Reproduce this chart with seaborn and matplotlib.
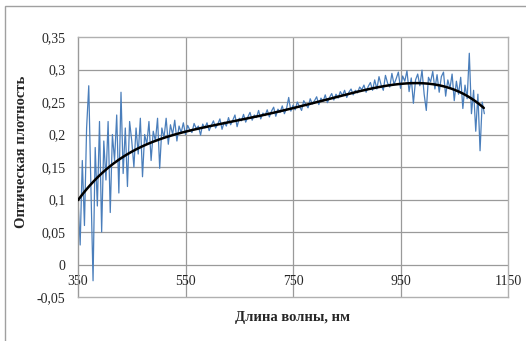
import numpy as np
import pandas as pd
import matplotlib
matplotlib.use("Agg")
import matplotlib.pyplot as plt
import seaborn as sns
from matplotlib.patches import Rectangle

# optical density, 4 nm step starting at 350 nm
od_350_446 = [0.10, 0.03, 0.16, 0.06, 0.21, 0.275, 0.12, -0.025, 0.18, 0.09,
              0.22, 0.05, 0.19, 0.13, 0.22, 0.08, 0.20, 0.16, 0.23, 0.11,
              0.265, 0.14, 0.21, 0.12, 0.22]
od_450_546 = [0.19, 0.15, 0.21, 0.17, 0.225, 0.135, 0.20, 0.185, 0.22, 0.16,
              0.205, 0.19, 0.225, 0.148, 0.21, 0.195, 0.225, 0.185, 0.215, 0.20,
              0.222, 0.19, 0.213, 0.203, 0.218]
od_550_898 = [0.200, 0.214, 0.207, 0.203, 0.217, 0.209, 0.213, 0.199, 0.216, 0.210,
              0.218, 0.206, 0.214, 0.221, 0.210, 0.216, 0.224, 0.208, 0.219, 0.213,
              0.226, 0.215, 0.222, 0.230, 0.212, 0.225, 0.221, 0.231, 0.219, 0.227,
              0.234, 0.222, 0.230, 0.226, 0.237, 0.224, 0.233, 0.229, 0.238, 0.227,
              0.236, 0.242, 0.228, 0.239, 0.234, 0.244, 0.232, 0.240, 0.257, 0.236,
              0.245, 0.238, 0.250, 0.243, 0.237, 0.252, 0.246, 0.241, 0.255, 0.247,
              0.252, 0.258, 0.246, 0.256, 0.251, 0.261, 0.249, 0.257, 0.263, 0.253,
              0.262, 0.256, 0.266, 0.260, 0.268, 0.257, 0.265, 0.270, 0.261, 0.268,
              0.264, 0.273, 0.269, 0.276, 0.265, 0.274, 0.280, 0.268]
od_902_1106 = [0.284, 0.270, 0.289, 0.276, 0.268, 0.291, 0.279, 0.273, 0.294, 0.277,
               0.286, 0.296, 0.271, 0.290, 0.282, 0.298, 0.266, 0.287, 0.248, 0.284,
               0.293, 0.275, 0.299, 0.262, 0.237, 0.288, 0.281, 0.297, 0.270, 0.292,
               0.265, 0.289, 0.296, 0.259, 0.284, 0.271, 0.293, 0.252, 0.282, 0.262,
               0.288, 0.240, 0.276, 0.255, 0.325, 0.232, 0.268, 0.205, 0.262, 0.175,
               0.250, 0.232]
optical_density = od_350_446 + od_450_546 + od_550_898 + od_902_1106
wavelength = np.arange(350, 350 + 4 * len(optical_density), 4)

# black trendline, read at 50 nm steps
trend_wl = [350, 400, 450, 500, 550, 600, 650, 700, 750, 800, 850, 900, 950, 1000, 1050, 1105]
trend_od = [0.099, 0.145, 0.172, 0.194, 0.204, 0.213, 0.222, 0.231, 0.241, 0.251,
            0.262, 0.271, 0.277, 0.280, 0.268, 0.241]

x_ticks = [350, 550, 750, 950, 1150]
y_ticks = [-0.05, 0, 0.05, 0.1, 0.15, 0.2, 0.25, 0.3, 0.35]
y_tick_labels = ["-0,05", "0", "0,05", "0,1", "0,15", "0,2", "0,25", "0,3", "0,35"]

df = pd.DataFrame({"wl": wavelength, "od": optical_density})

# smooth the trendline readings with a polynomial, as Excel draws it
coef = np.polyfit((np.array(trend_wl) - 725) / 400, trend_od, 6)
tx = np.linspace(trend_wl[0], trend_wl[-1], 300)
trend = pd.DataFrame({"wl": tx, "od": np.polyval(coef, (tx - 725) / 400)})

sns.set_style("white")
plt.rcParams["font.family"] = ["Liberation Serif", "DejaVu Serif"]

fig = plt.figure(figsize=(5.26, 3.41), dpi=100)
ax = fig.add_axes([78 / 526, 44 / 341, 430 / 526, 260 / 341])

grid_c = "#9a9a9a"
for v in x_ticks[1:-1]:
    ax.axvline(v, color=grid_c, lw=0.9, zorder=0)
for v in y_ticks[1:-1]:
    ax.axhline(v, color=grid_c, lw=0.9, zorder=0)

sns.lineplot(data=df, x="wl", y="od", ax=ax, color="#4a7ebb", lw=0.9, zorder=2)
sns.lineplot(data=trend, x="wl", y="od", ax=ax, color="black", lw=1.8, zorder=3)

ax.set_xlim(350, 1150)
ax.set_ylim(-0.05, 0.35)
ax.set_xticks(x_ticks)
ax.set_xticklabels([str(v) for v in x_ticks])
ax.set_yticks(y_ticks)
ax.set_yticklabels(y_tick_labels)
ax.tick_params(axis="x", pad=-16, labelsize=10, length=0)
ax.tick_params(axis="y", pad=9, labelsize=10, length=0)
ax.set_xlabel("")
ax.set_ylabel("")
for s in ax.spines.values():
    s.set_color("#b0b0b0")
    s.set_linewidth(1)
ax.spines["left"].set_color(grid_c)

fig.text(293 / 526, 1 - 317 / 341, "Длина волны, нм", ha="center", va="center",
         fontsize=10.5, fontweight="bold")
fig.text(22 / 526, 1 - 152 / 341, "Оптическая плотность", ha="center", va="center",
         rotation=90, fontsize=10.5, fontweight="bold")

fig.patches.append(Rectangle((5 / 526, -0.05), 1.2, 1 - 6 / 341 + 0.05,
                             transform=fig.transFigure, fill=False,
                             edgecolor="#a0a0a0", lw=1))

plt.savefig("out.png", dpi=100)
